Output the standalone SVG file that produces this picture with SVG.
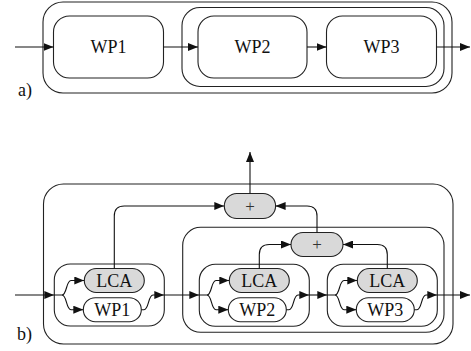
<svg xmlns="http://www.w3.org/2000/svg" width="471" height="351" viewBox="0 0 471 351">
<style>
.box{fill:#fff;stroke:#222;stroke-width:1.1}
.cont{fill:none;stroke:#222;stroke-width:1.1}
.lca{fill:#d9d9d9;stroke:#222;stroke-width:1.1}
.wire{fill:none;stroke:#111;stroke-width:1.1}
</style>
<defs>
<marker id="ah" viewBox="0 0 10 8" refX="10" refY="4" markerWidth="10" markerHeight="8" markerUnits="userSpaceOnUse" orient="auto">
<path d="M0,0 L10,4 L0,8 z" fill="#111"/>
</marker>
</defs>

<!-- part a -->
<g id="a-outer"><rect class="cont" x="43" y="2" width="409" height="91" rx="20"/></g>
<g id="a-inner"><rect class="cont" x="182" y="7.5" width="262" height="79" rx="18"/></g>
<g id="a-wp1"><rect class="box" x="53.5" y="16" width="110" height="62" rx="16"/><text x="108.5" y="53" font-family="Liberation Serif" font-size="18" text-anchor="middle" fill="#111">WP1</text></g>
<g id="a-wp2"><rect class="box" x="198" y="16" width="109" height="62" rx="16"/><text x="252.5" y="53" font-family="Liberation Serif" font-size="18" text-anchor="middle" fill="#111">WP2</text></g>
<g id="a-wp3"><rect class="box" x="326.5" y="16" width="110" height="62" rx="16"/><text x="381.5" y="53" font-family="Liberation Serif" font-size="18" text-anchor="middle" fill="#111">WP3</text></g>
<text x="18" y="96" font-family="Liberation Serif" font-size="18" fill="#111">a)</text>

<!-- part b -->
<g id="b-outer"><rect class="cont" x="43.5" y="184" width="409.5" height="160" rx="20"/></g>
<g id="b-inner"><rect class="cont" x="182.7" y="227.3" width="261.3" height="105" rx="18"/></g>

<g id="b-g1"><rect class="cont" x="54.3" y="264" width="110" height="62" rx="16"/></g>
<g id="b-lca1"><rect class="lca" x="84.3" y="268.5" width="60" height="24" rx="12"/><text x="114.3" y="286.7" font-family="Liberation Serif" font-size="18" text-anchor="middle" fill="#111">LCA</text></g>
<g id="b-wp1"><rect class="box" x="83.3" y="297.7" width="58" height="24" rx="12"/><text x="112.3" y="315.9" font-family="Liberation Serif" font-size="18" text-anchor="middle" fill="#111">WP1</text></g>

<g id="b-g2"><rect class="cont" x="199.3" y="264.3" width="110" height="62" rx="16"/></g>
<g id="b-lca2"><rect class="lca" x="229.3" y="268.5" width="60" height="24" rx="12"/><text x="259.3" y="286.7" font-family="Liberation Serif" font-size="18" text-anchor="middle" fill="#111">LCA</text></g>
<g id="b-wp2"><rect class="box" x="228.3" y="297.7" width="58" height="24" rx="12"/><text x="257.3" y="315.9" font-family="Liberation Serif" font-size="18" text-anchor="middle" fill="#111">WP2</text></g>

<g id="b-g3"><rect class="cont" x="327.3" y="264.3" width="110" height="62" rx="16"/></g>
<g id="b-lca3"><rect class="lca" x="357.3" y="268.5" width="60" height="24" rx="12"/><text x="387.3" y="286.7" font-family="Liberation Serif" font-size="18" text-anchor="middle" fill="#111">LCA</text></g>
<g id="b-wp3"><rect class="box" x="356.3" y="297.7" width="58" height="24" rx="12"/><text x="385.3" y="315.9" font-family="Liberation Serif" font-size="18" text-anchor="middle" fill="#111">WP3</text></g>

<g id="b-plus-top"><rect class="lca" x="224.3" y="193.5" width="51.3" height="25" rx="12.5"/><text x="250" y="211.5" font-family="Liberation Serif" font-size="17" text-anchor="middle" fill="#333">+</text></g>
<g id="b-plus2"><rect class="lca" x="291" y="232.5" width="52" height="24" rx="12"/><text x="317" y="250" font-family="Liberation Serif" font-size="17" text-anchor="middle" fill="#333">+</text></g>

<text x="17" y="340" font-family="Liberation Serif" font-size="18" fill="#111">b)</text>

<g id="connectors">
<!-- a -->
<path class="wire" d="M15,47 H53.5" marker-end="url(#ah)"/>
<path class="wire" d="M163.5,47 H198" marker-end="url(#ah)"/>
<path class="wire" d="M307,47 H326.5" marker-end="url(#ah)"/>
<path class="wire" d="M436.5,47 H470" marker-end="url(#ah)"/>
<!-- b main line -->
<path class="wire" d="M15,295 H54.3" marker-end="url(#ah)"/>
<path class="wire" d="M54.3,295 H62 C67,295 66,280.5 71,280.5 H84.3" marker-end="url(#ah)"/>
<path class="wire" d="M62,295 C67,295 66,309.7 71,309.7 H83.3" marker-end="url(#ah)"/>
<path class="wire" d="M141.3,309.7 H144 C149,309.7 148,295 153,295 H164.3" marker-end="url(#ah)"/>
<path class="wire" d="M164.3,295 H199.3" marker-end="url(#ah)"/>
<path class="wire" d="M199.3,295 H207 C212,295 211,280.5 216,280.5 H229.3" marker-end="url(#ah)"/>
<path class="wire" d="M207,295 C212,295 211,309.7 216,309.7 H228.3" marker-end="url(#ah)"/>
<path class="wire" d="M286.3,309.7 H289 C294,309.7 293,295 298,295 H309.3" marker-end="url(#ah)"/>
<path class="wire" d="M309.3,295 H327.3" marker-end="url(#ah)"/>
<path class="wire" d="M327.3,295 H335 C340,295 339,280.5 344,280.5 H357.3" marker-end="url(#ah)"/>
<path class="wire" d="M335,295 C340,295 339,309.7 344,309.7 H356.3" marker-end="url(#ah)"/>
<path class="wire" d="M414.3,309.7 H417 C422,309.7 421,295 426,295 H437.3" marker-end="url(#ah)"/>
<path class="wire" d="M437.3,295 H470" marker-end="url(#ah)"/>
<!-- b sums -->
<path class="wire" d="M114.3,268.5 V216 Q114.3,206 124.3,206 H224.3" marker-end="url(#ah)"/>
<path class="wire" d="M317,232.5 V216 Q317,206 307,206 H275.6" marker-end="url(#ah)"/>
<path class="wire" d="M259.3,268.5 V254.5 Q259.3,244.5 269.3,244.5 H291" marker-end="url(#ah)"/>
<path class="wire" d="M387.3,268.5 V254.5 Q387.3,244.5 377.3,244.5 H343" marker-end="url(#ah)"/>
<path class="wire" d="M250,193.5 V152" marker-end="url(#ah)"/>
</g>
</svg>
